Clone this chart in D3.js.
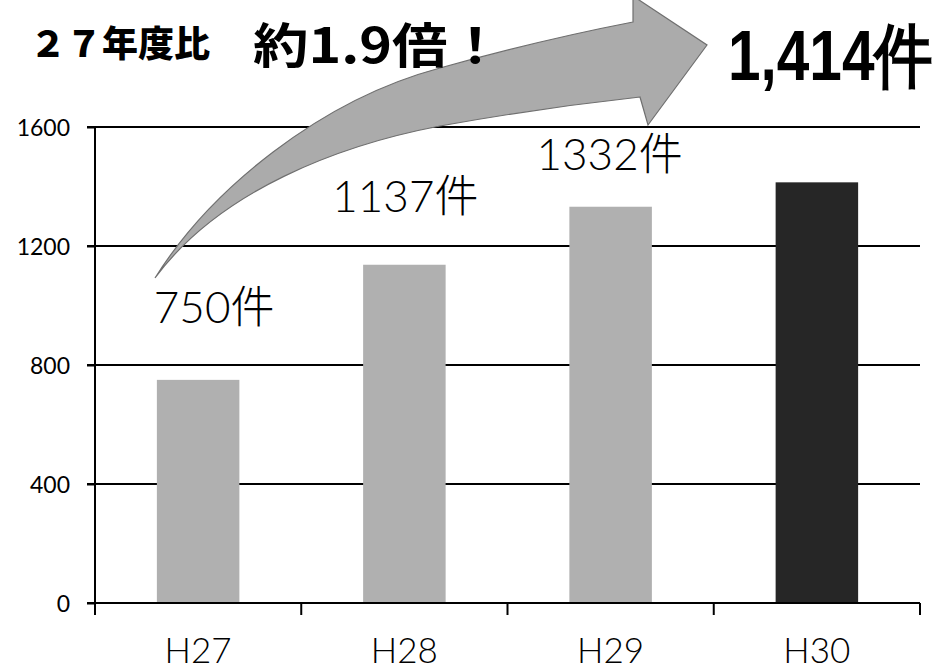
<!DOCTYPE html>
<html>
<head>
<meta charset="utf-8">
<script src="https://cdn.jsdelivr.net/npm/d3@7"></script>
<style>
  html, body { margin: 0; padding: 0; background: #fff; }
  svg { display: block; }
</style>
</head>
<body>
<svg id="chart" width="951" height="672"></svg>
<script>
// ---- data ----
const categories = ["H27", "H28", "H29", "H30"];
const values = [750, 1137, 1332, 1414];
const valueLabels = ["750件", "1137件", "1332件"];
const yTicks = [0, 400, 800, 1200, 1600];
const titleLeft = "２７年度比";
const titleMid = "約1.9倍！";
const titleRight = "1,414件";

// ---- layout ----
(function () {
const svg = d3.select("#chart");
const mLeft = 95, mRight = 920, mTop = 127, mBottom = 603;
const x = d3.scaleBand().domain(categories).range([mLeft, mRight]).paddingInner(0.6).paddingOuter(0.3);
const y = d3.scaleLinear().domain([0, 1600]).range([mBottom, mTop]);
const latin = "Lato, 'Noto Sans CJK JP', sans-serif";

// gridlines
svg.append("g").selectAll("line").data(yTicks.filter(d => d > 0)).join("line")
  .attr("x1", mLeft - 8).attr("x2", mRight)
  .attr("y1", d => y(d)).attr("y2", d => y(d))
  .attr("stroke", "#000").attr("stroke-width", 2);

// y axis
const yAxis = d3.axisLeft(y).tickValues(yTicks).tickFormat(d3.format("d")).tickSize(8).tickPadding(17);
const gy = svg.append("g").attr("transform", `translate(${mLeft},0)`).call(yAxis);
gy.attr("font-size", null).attr("font-family", null);
gy.select(".domain").remove();
gy.append("line").attr("x1", 0).attr("x2", 0).attr("y1", mTop).attr("y2", mBottom + 11)
  .attr("stroke", "#000").attr("stroke-width", 2);
gy.selectAll(".tick line").attr("stroke", "#000").attr("stroke-width", 2);
gy.selectAll(".tick text").style("font-family", latin).style("font-size", "23px").attr("fill", "#000")
  .attr("dy", "0.36em");

// bars
svg.append("g").selectAll("rect").data(values).join("rect")
  .attr("x", (d, i) => x(categories[i]))
  .attr("width", x.bandwidth())
  .attr("y", d => y(d))
  .attr("height", d => y(0) - y(d))
  .attr("fill", (d, i) => i === categories.length - 1 ? "#262626" : "#b0b0b0");

// x axis baseline and boundary ticks
svg.append("line").attr("x1", mLeft - 8).attr("x2", mRight).attr("y1", mBottom).attr("y2", mBottom)
  .attr("stroke", "#000").attr("stroke-width", 2);
const step = x.step();
svg.append("g").selectAll("line").data(d3.range(categories.length + 1)).join("line")
  .attr("x1", i => mLeft + i * step).attr("x2", i => mLeft + i * step)
  .attr("y1", mBottom).attr("y2", mBottom + 12)
  .attr("stroke", "#000").attr("stroke-width", 2);

// x labels
const xAxis = d3.axisBottom(x).tickSize(0).tickPadding(0);
const gx = svg.append("g").attr("transform", `translate(0,${mBottom})`).call(xAxis);
gx.attr("font-size", null).attr("font-family", null);
gx.select(".domain").remove();
gx.selectAll(".tick text").style("font-family", latin).style("font-size", "35px").style("font-weight", 300)
  .attr("fill", "#000").attr("dy", null).attr("y", 60);

// curved arrow (decoration)
svg.append("path")
  .attr("d", "M155,278 C210,190 320,100 440,68 Q540,40 633,22 L633,-4 L707,45 L648,125 L640,97 Q540,108 440,126 C340,145 220,190 155,278 Z")
  .attr("fill", "#ababab").attr("stroke", "#6f6f6f").attr("stroke-width", 1.2);

// value labels
const labelDx = [16, 1, -1];
const labelDy = [-57, -53, -37];
svg.append("g").selectAll("text").data(valueLabels).join("text")
  .attr("x", (d, i) => x(categories[i]) + x.bandwidth() / 2 + labelDx[i])
  .attr("y", (d, i) => y(values[i]) + labelDy[i])
  .attr("text-anchor", "middle")
  .style("font-family", latin).style("font-size", "44px").style("font-weight", 300).attr("fill", "#000")
  .text(d => d);

// titles
svg.append("text").attr("x", 30).attr("y", 57)
  .style("font-family", "'Noto Sans CJK JP', sans-serif").style("font-weight", 900)
  .style("font-size", "36px").attr("textLength", 180).attr("lengthAdjust", "spacing")
  .text(titleLeft);
svg.append("text").attr("x", 253).attr("y", 63)
  .style("font-family", "'Noto Sans CJK JP', sans-serif").style("font-weight", "bold")
  .style("font-size", "48px").attr("textLength", 250).attr("lengthAdjust", "spacingAndGlyphs")
  .text(titleMid);
const rg = svg.append("g");
const rt = rg.append("text").attr("x", 0).attr("y", 0)
  .style("font-family", "'Liberation Sans Narrow', 'Liberation Sans', sans-serif").style("font-weight", "bold")
  .style("font-size", "70px").text(titleRight);
const natural = rt.node().getComputedTextLength() || 245;
rg.attr("transform", `translate(728,80) scale(${205 / natural},1)`);
})();
</script>
</body>
</html>
